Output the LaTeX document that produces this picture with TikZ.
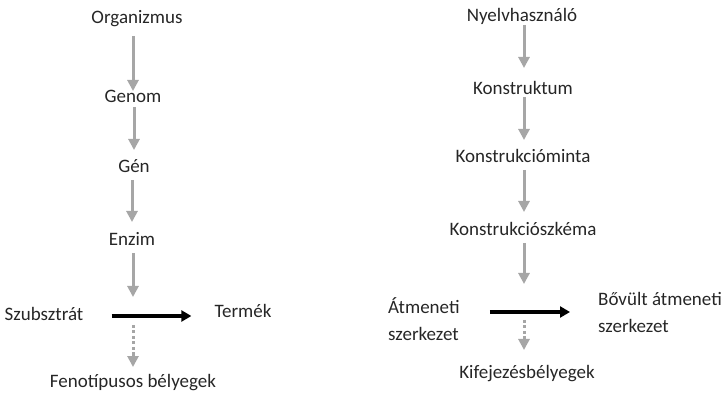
\documentclass[tikz,border=0pt]{standalone}
\usepackage{fontspec}
\setmainfont{Carlito}
\usetikzlibrary{arrows.meta}
\definecolor{arrgray}{HTML}{A6A6A6}
\tikzset{
  lbl/.style={inner sep=0pt, anchor=base, font=\fontsize{19}{27}\selectfont, text=black!85},
  lbl2/.style={lbl, align=left, anchor=west},
  garrow/.style={draw=arrgray, line width=3pt, -{Triangle[width=11pt,length=11pt]}},
  darrow/.style={garrow, dash pattern=on 3pt off 2.5pt},
  barrow/.style={draw=black, line width=3.2pt, -{Triangle[width=11pt,length=10pt]}}
}
\begin{document}
\begin{tikzpicture}[x=1pt,y=-1pt]
\useasboundingbox (0,0) rectangle (723,395);
% left column
\node[lbl] (org) at (137,24) {Organizmus};
\node[lbl] (gen) at (133,103) {Genom};
\node[lbl] (gn) at (134,173) {Gén};
\node[lbl] (enz) at (132,246) {Enzim};
\node[lbl] (szu) at (44,321) {Szubsztrát};
\node[lbl] (ter) at (243,318) {Termék};
\node[lbl] (fen) at (133,388) {Fenotípusos bélyegek};
\coordinate (m1) at (133,316);
% right column
\node[lbl] (nye) at (522,22) {Nyelvhasználó};
\node[lbl] (kon) at (523,95) {Konstruktum};
\node[lbl] (kmi) at (523,163) {Konstrukcióminta};
\node[lbl] (ksz) at (523,236) {Konstrukciószkéma};
\node[lbl2] (atm) at (388,319) {Átmeneti\\szerkezet};
\node[lbl2] (bov) at (598,312) {Bővült átmeneti\\szerkezet};
\node[lbl] (kif) at (527,378) {Kifejezésbélyegek};
\coordinate (m2) at (524,312);
% left arrows
\draw[garrow, shorten <=12pt, shorten >=12pt] (org.base -| gen) -- (gen.base);
\draw[garrow, shorten <=4pt, shorten >=23pt] (gen.base -| gn) -- (gn.base);
\draw[garrow, shorten <=7pt, shorten >=24pt] (gn.base -| enz) -- (enz.base);
\draw[garrow, shorten <=7pt, shorten >=19pt] (enz.base -| m1) -- (m1);
\draw[darrow, shorten <=9pt, shorten >=21pt] (m1) -- (m1 |- fen.base);
\draw[barrow, shorten <=28pt, shorten >=23pt] (m1 -| szu.east) -- (m1 -| ter.west);
% right arrows
\draw[garrow, shorten <=3pt, shorten >=27pt] (nye.base -| m2) -- (m2 |- kon.base);
\draw[garrow, shorten <=2pt, shorten >=23pt] (kon.base -| m2) -- (m2 |- kmi.base);
\draw[garrow, shorten <=7pt, shorten >=24pt] (kmi.base -| m2) -- (m2 |- ksz.base);
\draw[garrow, shorten <=7pt, shorten >=28pt] (ksz.base -| m2) -- (m2);
\draw[darrow, shorten <=8pt, shorten >=28pt] (m2) -- (m2 |- kif.base);
\draw[barrow, shorten <=30pt, shorten >=28pt] (m2 -| atm.east) -- (m2 -| bov.west);
\end{tikzpicture}
\end{document}
